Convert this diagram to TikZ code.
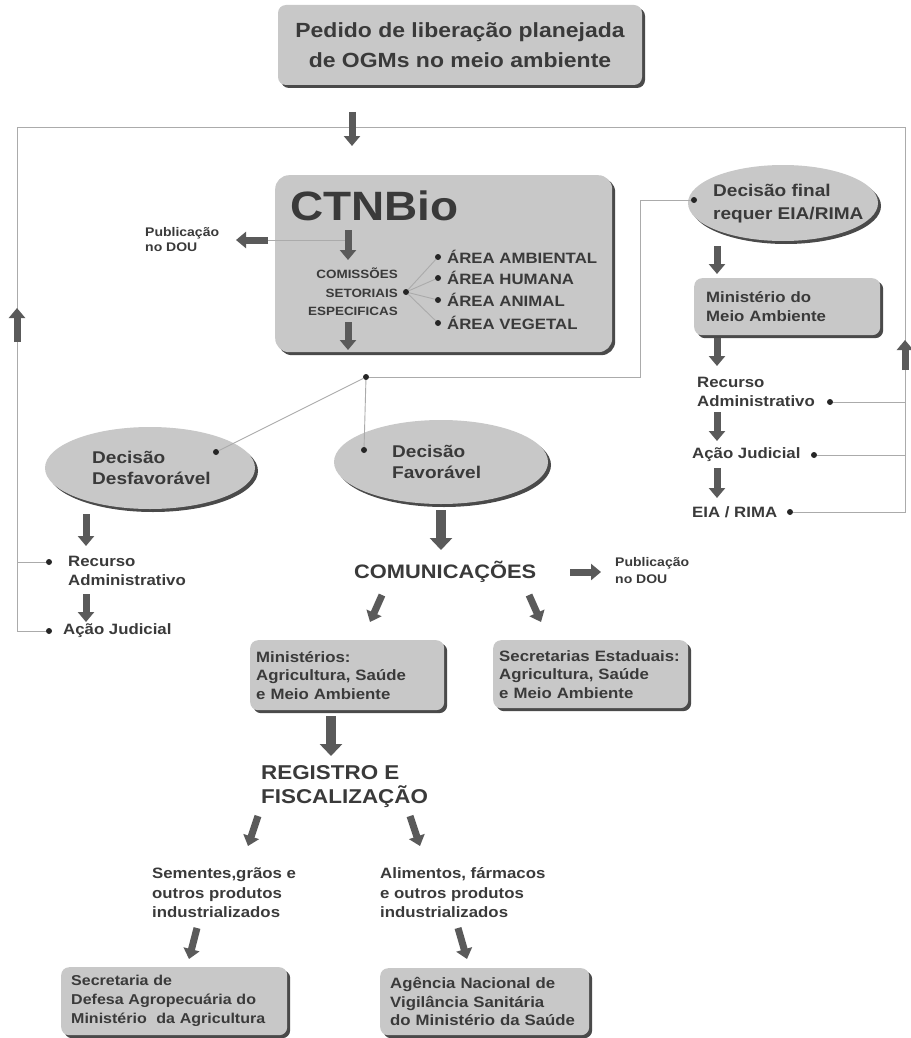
\documentclass[tikz,border=0pt]{standalone}
\usepackage{fontspec}
\setmainfont{Liberation Sans}[FakeStretch=1.12]
\usetikzlibrary{arrows.meta,shadows,shapes.geometric}
\definecolor{cinzaCaixa}{HTML}{C8C8C8}
\definecolor{cinzaTexto}{HTML}{3A3A3A}
\definecolor{cinzaSeta}{HTML}{5A5A5A}
\definecolor{cinzaFio}{HTML}{ABABAB}
\definecolor{cinzaSombra}{HTML}{4A4A4A}
\newcommand{\tam}[2]{\bfseries\fontsize{#1}{#2}\selectfont}
\begin{document}
\begin{tikzpicture}[x=1pt,y=-1pt,
	every node/.style={text=cinzaTexto,font=\tam{15}{18.5}},
	caixa/.style={rectangle,rounded corners=8pt,fill=cinzaCaixa,anchor=north west,align=left,
	drop shadow={shadow xshift=3pt,shadow yshift=-3pt,fill=cinzaSombra,opacity=1}},
	oval/.style={ellipse,fill=cinzaCaixa,
	drop shadow={shadow xshift=3pt,shadow yshift=-3pt,fill=cinzaSombra,opacity=1}},
	txt/.style={anchor=west,align=left,inner sep=0pt},
	ponto/.style={circle,fill=black!85,inner sep=0pt,minimum size=6pt},
	fio/.style={draw=cinzaFio,line width=0.9pt},
	seta/.style={draw=cinzaSeta,line width=7pt,-{Triangle[length=10pt,width=16pt]}},
	setagrossa/.style={seta,line width=10pt,-{Triangle[length=12pt,width=22pt]}}]
\useasboundingbox (0,0) rectangle (910,1038);
\fill[white] (0,0) rectangle (910,1038);
\node[caixa,anchor=center,align=center,minimum width=364pt,minimum height=80pt,
	font=\tam{20.5}{30}] (pedido) at (460,45) {Pedido de liberação planejada\\de OGMs no meio ambiente};
\node[caixa,rounded corners=14pt,minimum width=337pt,minimum height=177pt] (ctnbio) at (275,175) {};
\node[txt,font=\tam{41}{41}] (ctntitulo) at (290,206) {CTNBio};
\node[txt,anchor=east,align=right,font=\tam{12}{18.5}] (comissoes) at (398,292) {COMISSÕES\\SETORIAIS\\ESPECIFICAS};
\node[ponto] (dc) at (406,292) {};
\foreach \i/\y/\t in {1/257/AMBIENTAL,2/278/HUMANA,3/300/ANIMAL,4/323/VEGETAL}{
	\node[ponto] (da\i) at (438,\y) {};
	\node[txt] (area\i) at (447,\y) {ÁREA \t};
	\draw[fio] (dc) -- (da\i);
}
\node[txt,font=\tam{12.5}{15}] (publ1) at (145,240) {Publicação\\no DOU};
\node[oval,minimum width=190pt,minimum height=76pt] (final) at (783,203) {};
\node[txt,font=\tam{17}{23}] (finaltxt) at (713,204) {Decisão final\\requer EIA/RIMA};
\node[ponto] (dfinal) at (694,200) {};
\node[caixa,inner xsep=12pt,text width=162pt,minimum height=57pt] (mma) at (694,278) {Ministério do\\Meio Ambiente};
\node[txt] (recR) at (697,392) {Recurso\\Administrativo};
\node[ponto] (drecR) at (830,402) {};
\node[txt] (acaoR) at (692,455) {Ação Judicial};
\node[ponto] (dacaoR) at (814,455) {};
\node[txt] (eia) at (692,512) {EIA / RIMA};
\node[ponto] (deia) at (790,512) {};
\node[ponto] (juncao) at (366,377) {};
\node[oval,minimum width=210pt,minimum height=82pt] (desfav) at (150,468) {};
\node[txt,font=\tam{17}{21}] (desfavtxt) at (92,468) {Decisão\\Desfavorável};
\node[ponto] (ddesfav) at (216,452) {};
\node[oval,minimum width=214pt,minimum height=84pt] (fav) at (441,462) {};
\node[txt,font=\tam{17}{21}] (favtxt) at (392,462) {Decisão\\Favorável};
\node[ponto] (dfav) at (364,450) {};
\node[txt] (recL) at (68,571) {Recurso\\Administrativo};
\node[ponto] (drecL) at (49,562) {};
\node[txt] (acaoL) at (63,631) {Ação Judicial};
\node[ponto] (dacaoL) at (49,631) {};
\node[txt,font=\tam{19.5}{24}] (comun) at (354,572) {COMUNICAÇÕES};
\node[txt,font=\tam{12.5}{17}] (publ2) at (615,571) {Publicação\\no DOU};
\node[caixa,inner xsep=6pt,text width=182pt,minimum height=70pt] (ministerios) at (250,640) {Ministérios:\\Agricultura, Saúde\\e Meio Ambiente};
\node[caixa,inner xsep=6pt,text width=183pt,minimum height=68pt] (secretarias) at (493,640) {Secretarias Estaduais:\\Agricultura, Saúde\\e Meio Ambiente};
\node[txt,font=\tam{20}{24}] (registro) at (261,787) {REGISTRO E\\FISCALIZAÇÃO};
\node[txt,font=\tam{15}{19.5}] (sementes) at (152,893) {Sementes,grãos e\\outros produtos\\industrializados};
\node[txt,font=\tam{15}{19.5}] (alimentos) at (380,893) {Alimentos, fármacos\\e outros produtos\\industrializados};
\node[caixa,inner xsep=10pt,text width=206pt,minimum height=68pt,font=\tam{14.3}{19}] (defesa) at (61,967) {Secretaria de\\Defesa Agropecuária do\\Ministério\ \ da Agricultura};
\node[caixa,inner xsep=10pt,text width=189pt,minimum height=67pt] (anvisa) at (380,968) {Agência Nacional de\\Vigilância Sanitária\\do Ministério da Saúde};
\coordinate (cantoSE) at (17,127);
\coordinate (cantoSD) at (905,127);
\coordinate (desvio) at (640,377);
\draw[fio] (drecL) -| (cantoSE) -- (cantoSD) |- (deia);
\draw[fio] (dacaoL) -| (cantoSE);
\draw[fio] (drecR) -| (cantoSD);
\draw[fio] (dacaoR) -| (cantoSD);
\draw[fio] (juncao) -- (desvio) |- (dfinal);
\draw[fio] (juncao) -- (ddesfav);
\draw[fio] (juncao) -- (dfav);
\coordinate (s1i) at (352,112); \coordinate (s1f) at (352,146);
\coordinate (s2i) at (348,230); \coordinate (s2f) at (348,260);
\coordinate (s3i) at (348,322); \coordinate (s3f) at (348,350);
\coordinate (s4i) at (268,240); \coordinate (s4f) at (236,240);
\coordinate (s5i) at (717,246); \coordinate (s5f) at (717,274);
\coordinate (s6i) at (717,338); \coordinate (s6f) at (717,366);
\coordinate (s7i) at (717,412); \coordinate (s7f) at (717,441);
\coordinate (s8i) at (717,468); \coordinate (s8f) at (717,498);
\coordinate (s9i) at (17,342); \coordinate (s9f) at (17,308);
\coordinate (s10i) at (905,370); \coordinate (s10f) at (905,340);
\coordinate (s11i) at (86,514); \coordinate (s11f) at (86,546);
\coordinate (s12i) at (86,594); \coordinate (s12f) at (86,622);
\coordinate (s13i) at (441,510); \coordinate (s13f) at (441,550);
\coordinate (s14i) at (570,572); \coordinate (s14f) at (601,572);
\coordinate (s15i) at (382,595); \coordinate (s15f) at (370,622);
\coordinate (s16i) at (529,595); \coordinate (s16f) at (541,622);
\coordinate (s17i) at (331,716); \coordinate (s17f) at (331,756);
\coordinate (s18i) at (258,816); \coordinate (s18f) at (248,846);
\coordinate (s19i) at (410,816); \coordinate (s19f) at (420,846);
\coordinate (s20i) at (197,928); \coordinate (s20f) at (189,959);
\coordinate (s21i) at (458,928); \coordinate (s21f) at (467,959);
\draw[fio] (s4i) -- (s4i -| s2i);
\foreach \n in {1,2,3,4,5,6,7,8,9,10,11,12,14,15,16,18,19,20,21}
	\draw[seta] (s\n i) -- (s\n f);
\draw[setagrossa] (s13i) -- (s13f);
\draw[setagrossa] (s17i) -- (s17f);
\end{tikzpicture}
\end{document}
